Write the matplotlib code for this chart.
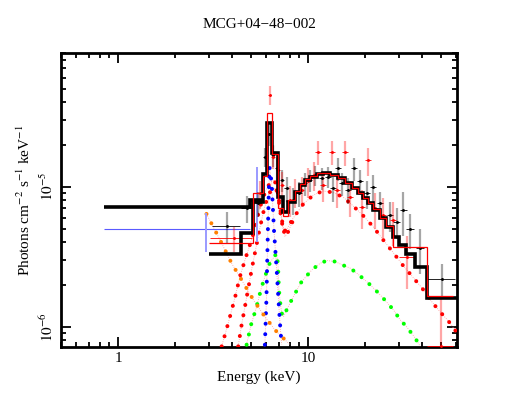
import matplotlib
matplotlib.use("Agg")
import matplotlib.pyplot as plt
from matplotlib.ticker import FixedLocator, FixedFormatter, NullFormatter, LogLocator
import numpy as np

plt.rcParams['font.family'] = ['Liberation Serif', 'DejaVu Serif']
plt.rcParams['mathtext.fontset'] = 'stix'

# ---- data groups (keV, photons cm^-2 s^-1 keV^-1) ----
# group 1 (black)
b_e = [3.75, 4.75, 5.47, 5.93, 6.25, 6.56, 6.84, 7.27, 7.72, 8.37,
       8.97, 9.64, 10.2, 10.9, 11.8, 12.8, 13.6, 14.4, 15.1, 16.2,
       17.5, 18.8, 20.4, 22.1, 24.0, 27.1, 29.4, 31.8, 34.5, 38.9, 50.9]
b_ew = [0.63, 0.29, 0.2, 0.12, 0.12, 0.15, 0.15, 0.18, 0.2, 0.25,
        0.28, 0.3, 0.32, 0.35, 0.4, 0.45, 0.5, 0.5, 0.55, 0.6,
        0.65, 0.7, 0.75, 0.8, 0.9, 1.1, 1.2, 1.3, 1.5, 2.0, 8.7]
b_f = [5.27, 7.02, 7.61, 16.4, 23.6, 16.8, 13.5, 11.2, 9.74, 8.04,
       8.97, 10.6, 11.2, 12.1, 11.5, 11.8, 9.74, 13.5, 10.6, 9.47,
       13.5, 10.9, 8.97, 10.0, 7.61, 6.28, 5.63, 6.82, 4.99, 3.67, 2.19]
b_ferr = [1.3, 1.5, 1.5, 2.5, 4.0, 3.0, 2.5, 2.0, 2.0, 1.8,
          1.8, 2.0, 2.0, 2.0, 2.0, 2.0, 2.0, 2.5, 2.0, 2.0,
          2.5, 2.2, 2.0, 2.2, 1.6, 1.5, 1.4, 2.4, 1.4, 1.3, 0.6]

# group 2 (red)
r_e = [4.07, 5.58, 6.30, 6.56, 6.97, 7.27, 8.04, 8.54, 9.26, 10.0,
       10.7, 11.3, 12.0, 13.4, 14.2, 15.7, 16.7, 19.2, 20.8, 22.6,
       24.9, 28.2, 33.1, 50.3]
r_ew = [1.03, 0.3, 0.12, 0.15, 0.18, 0.18, 0.25, 0.25, 0.3, 0.3,
        0.35, 0.35, 0.4, 0.45, 0.5, 0.55, 0.6, 0.7, 0.75, 0.8,
        0.9, 1.0, 3.0, 8.0]
r_f = [4.29, 8.97, 45.0, 16.4, 13.2, 10.3, 8.04, 9.21, 9.47, 10.9,
       12.1, 17.8, 10.3, 17.8, 9.47, 17.6, 8.49, 7.20, 15.5, 7.02,
       6.28, 5.79, 3.17, 0.73]
r_ferr = [0.9, 2.0, 7.0, 3.0, 3.0, 2.5, 2.0, 2.2, 2.3, 2.6,
          2.8, 3.5, 2.5, 3.5, 2.4, 3.5, 2.4, 2.2, 3.5, 2.0,
          2.0, 2.0, 1.3, 0.9]

# group 3 (blue, soft band)
x_e = [2.90, 5.37]
x_elo = [2.056, 0.42]
x_ehi = [2.05, 0.42]
x_f = [4.97, 8.0]
x_flo = [1.55, 4.0]
x_fhi = [1.53, 5.8]

# ---- folded models (step) ----
bm_edges = [3.02, 4.42, 5.11, 5.77, 6.06, 6.44, 6.97, 7.36, 7.87, 8.54,
            9.08, 9.64, 10.2, 11.1, 12.0, 13.1, 14.4, 15.7, 17.0, 18.4,
            19.6, 20.8, 22.1, 24.0, 25.8, 28.2, 30.3, 32.9, 36.7, 42.2, 61.0]
bm_vals = [3.31, 4.65, 7.82, 12.3, 28.3, 17.3, 8.49, 6.63, 7.82, 9.21,
           10.3, 11.2, 11.8, 12.4, 12.5, 12.1, 11.5, 10.6, 9.74, 8.97,
           8.27, 7.61, 6.82, 5.95, 5.19, 4.40, 3.84, 3.31, 2.66, 1.61]

rm_edges = [3.02, 5.11, 5.77, 6.06, 6.44, 6.97, 7.36, 7.87, 8.54, 9.08,
            9.64, 10.2, 11.1, 13.1, 14.4, 15.7, 17.0, 18.4, 19.6, 20.8,
            22.1, 24.0, 25.8, 28.2, 42.2, 58.3]
rm_vals = [3.95, 8.97, 12.0, 33.4, 17.0, 7.0, 6.2, 8.0, 9.3, 10.4,
           11.3, 11.9, 12.6, 12.2, 11.6, 10.7, 9.85, 9.05, 8.35, 7.7,
           6.9, 6.0, 5.2, 3.70, 1.66]

xm_edges = [0.844, 4.95, 5.79]
xm_vals = [7.13, 8.0]

# ---- model components ----
c_red1_e = [3.51, 3.80, 4.12, 4.38, 4.69, 5.01, 5.26, 5.47, 5.72, 6.01,
            6.30, 6.62, 6.86, 7.12, 7.43, 7.75, 8.37, 9.45, 10.7, 12.0,
            13.6, 15.4, 17.3, 19.6, 22.1, 24.9, 28.2, 31.8, 35.9, 40.5,
            44.9, 49.6, 54.9, 61.0]
c_red1_f = [0.724, 1.06, 1.60, 2.28, 3.09, 4.06, 5.05, 6.39, 7.91, 9.47,
            10.6, 11.2, 10.1, 6.82, 4.75, 4.99, 5.98, 7.53, 8.73, 9.32,
            9.09, 8.38, 7.29, 6.18, 5.16, 4.17, 3.37, 2.72, 2.24, 1.84,
            1.51, 1.28, 1.10, 0.906]
c_red2_e = [4.29, 4.47, 4.66, 4.85, 5.07, 5.32, 5.58, 5.86, 6.15, 6.46,
            6.78, 7.03, 7.29, 7.56, 7.85, 8.37]
c_red2_f = [0.724, 1.03, 1.40, 1.89, 2.63, 3.66, 5.08, 6.82, 8.59, 9.63,
            9.79, 8.04, 5.79, 4.40, 4.75, 5.79]
c_grn_e = [4.75, 5.01, 5.37, 5.65, 5.93, 6.30, 6.84, 6.95, 7.03, 7.16,
           7.29, 7.43, 7.72, 8.37, 9.26, 10.5, 11.6, 12.6, 13.9, 15.1,
           16.7, 18.1, 20.4, 22.6, 24.9, 28.2, 30.6, 33.1, 36.7, 38.9]
c_grn_f = [0.744, 1.03, 1.40, 1.84, 2.28, 2.86, 3.35, 2.77, 1.84, 1.44,
           1.24, 1.18, 1.32, 1.64, 2.10, 2.55, 2.84, 2.97, 2.92, 2.77,
           2.62, 2.41, 2.10, 1.84, 1.60, 1.32, 1.12, 1.00, 0.83, 0.73]
c_blu_e = [5.93, 6.04, 6.15, 6.23, 6.27, 6.44, 6.62, 6.84, 6.99, 7.16, 7.27]
c_blu_f = [0.744, 1.56, 4.91, 10.3, 13.8, 10.6, 4.91, 2.55, 1.56, 0.952, 0.744]
c_org_e = [2.92, 3.44, 3.96, 4.47, 5.15, 5.93, 6.70, 8.04]
c_org_f = [6.39, 4.17, 2.84, 2.16, 1.56, 1.18, 0.95, 0.744]

sc = 1e-6


def arr(v):
    return np.asarray(v, dtype=float) * sc


fig = plt.figure(figsize=(5.18, 4.0), dpi=100)
ax = fig.add_axes([0.1178, 0.1325, 0.7645, 0.735])

# components: faint pink line under big round dots
dots = (0, (0.01, 2.6))
for e, f, col in [(c_red1_e, c_red1_f, '#ff0000'),
                  (c_red2_e, c_red2_f, '#ff0000'),
                  (c_grn_e, c_grn_f, '#00ff00'),
                  (c_blu_e, c_blu_f, '#0000ff'),
                  (c_org_e, c_org_f, '#ff8000')]:
    ax.plot(e, arr(f), color='#ff9a9a', lw=0.6, ls=':', zorder=2)
    ax.plot(e, arr(f), color=col, lw=2.9, ls=dots, dash_capstyle='round',
            zorder=3)

# data: group 3
ax.errorbar(x_e, arr(x_f), xerr=[x_elo, x_ehi], fmt='none',
            ecolor='#5a5aff', elinewidth=0.8, zorder=4)
ax.errorbar(x_e, arr(x_f), yerr=[arr(x_flo), arr(x_fhi)], fmt='none',
            ecolor='#9a9aff', elinewidth=1.4, zorder=4)

# data: group 1
ax.errorbar(b_e, arr(b_f), yerr=arr(b_ferr), fmt='none',
            ecolor=(0, 0, 0, 0.35), elinewidth=1.6, zorder=4)
ax.errorbar(b_e, arr(b_f), xerr=b_ew, fmt='none',
            ecolor='k', elinewidth=0.6, zorder=4)
ax.plot(b_e, arr(b_f), 'k.', ms=2.2, zorder=5)

# data: group 2
r_lo = np.minimum(arr(r_ferr), arr(r_f) - 1e-7)
ax.errorbar(r_e, arr(r_f), yerr=[r_lo, arr(r_ferr)], fmt='none',
            ecolor=(1, 0, 0, 0.35), elinewidth=1.6, zorder=4)
ax.errorbar(r_e, arr(r_f), xerr=r_ew, fmt='none',
            ecolor='#ff0000', elinewidth=0.6, zorder=4)
ax.plot(r_e, arr(r_f), '.', color='#ff0000', ms=2.2, zorder=5)

# folded models
ax.stairs(arr(bm_vals), bm_edges, baseline=None, color='k', lw=2.6, zorder=6)
ax.stairs(arr(xm_vals), xm_edges, baseline=None, color='k', lw=2.6, zorder=6)
ax.stairs(arr(rm_vals), rm_edges, baseline=None, color='#ff0000', lw=0.9,
          zorder=7)

ax.set_xscale('log')
ax.set_yscale('log')
ax.set_xlim(0.5, 61.0)
ax.set_ylim(7.17e-7, 9.0e-5)

ax.xaxis.set_major_locator(FixedLocator([1, 10]))
ax.xaxis.set_major_formatter(FixedFormatter(['1', '10']))
ax.xaxis.set_minor_locator(LogLocator(base=10, subs=np.arange(2, 10)))
ax.xaxis.set_minor_formatter(NullFormatter())
ax.yaxis.set_major_locator(FixedLocator([1e-6, 1e-5]))
ax.yaxis.set_major_formatter(FixedFormatter([r'$10^{-6}$', r'$10^{-5}$']))
ax.yaxis.set_minor_locator(LogLocator(base=10, subs=np.arange(2, 10)))
ax.yaxis.set_minor_formatter(NullFormatter())

ax.tick_params(which='both', direction='in', top=True, right=True,
               width=1.3, labelsize=11)
ax.tick_params(which='major', length=7)
ax.tick_params(which='minor', length=3.5)
ax.tick_params(axis='y', labelrotation=90)
for lab in ax.get_yticklabels():
    lab.set_va('center')
for sp in ax.spines.values():
    sp.set_linewidth(2.0)

ax.set_xlabel('Energy (keV)', fontsize=11)
ax.set_ylabel(r'Photons cm$^{-2}$ s$^{-1}$ keV$^{-1}$', fontsize=11)
ax.set_title('MCG+04\u221248\u2212002', fontsize=11, pad=18)

fig.savefig('out.png', dpi=100)
